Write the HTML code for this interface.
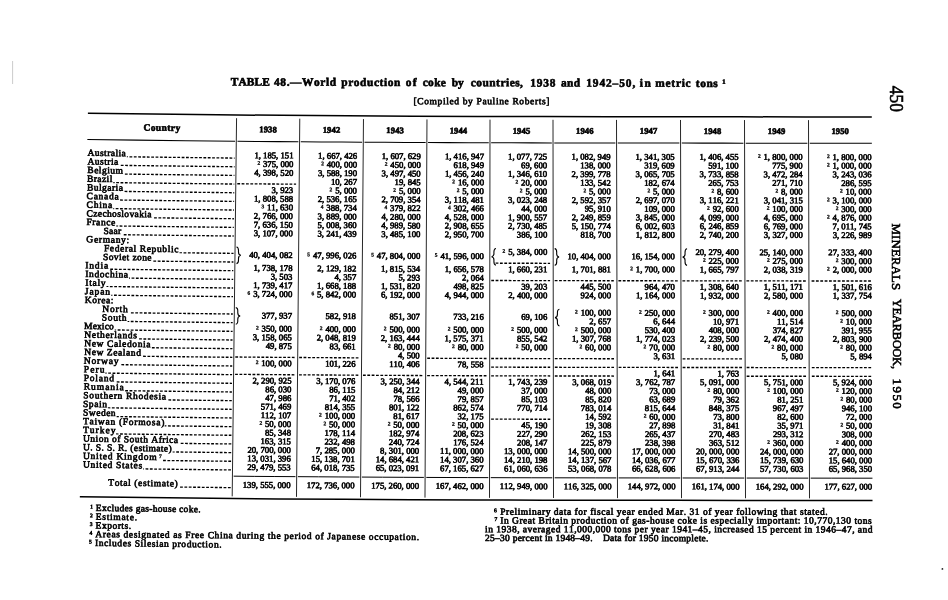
<!DOCTYPE html>
<html><head><meta charset="utf-8"><title>Table 48</title><style>
html,body{margin:0;padding:0;background:#fff;}
body{width:948px;height:600px;position:relative;overflow:hidden;filter:grayscale(1);font-family:"Liberation Serif",serif;color:#000;}
.t{position:absolute;left:0;top:0;transform-origin:0 0;white-space:nowrap;line-height:1;font-kerning:none;-webkit-text-stroke:0.6px #000;}
.s{font-size:5.4px;position:relative;top:-1.9px;margin-right:2.9px;letter-spacing:0;font-weight:bold;-webkit-text-stroke:0.3px #111;}
svg{position:absolute;left:0;top:0;}
svg *{stroke:#000;fill:none;}
</style></head>
<body>
<svg width="948" height="600" viewBox="0 0 948 600">
<polyline points="87.91,113.20 152.39,114.04 216.88,114.78 281.78,115.36 347.25,115.79 412.70,116.15 477.70,116.41 542.58,116.59 607.90,116.70 673.75,116.77 739.67,116.85 805.58,116.92 871.80,117.00" stroke-width="1.5"/>
<polyline points="79.83,496.70 145.89,497.55 211.95,498.32 278.13,498.94 344.14,499.37 410.45,499.74 476.90,500.01 542.92,500.19 608.84,500.30 674.76,500.37 740.68,500.45 806.59,500.53 872.51,500.60" stroke-width="1.5"/>
<polyline points="87.35,139.50 136.61,140.13 185.87,140.73 235.12,141.28" stroke-width="1.05"/>
<polyline points="237.49,141.31 257.79,141.50 278.09,141.64 298.39,141.77" stroke-width="1.05"/>
<polyline points="300.77,141.79 321.21,141.92 341.66,142.06 362.10,142.17" stroke-width="1.05"/>
<polyline points="364.49,142.19 384.88,142.30 405.28,142.41 425.67,142.53" stroke-width="1.05"/>
<polyline points="428.05,142.54 448.29,142.61 468.54,142.68 488.78,142.75" stroke-width="1.05"/>
<polyline points="491.15,142.75 511.38,142.82 531.62,142.87 551.85,142.90" stroke-width="1.05"/>
<polyline points="554.23,142.91 574.61,142.94 594.99,142.97 615.38,143.01" stroke-width="1.05"/>
<polyline points="617.77,143.01 638.30,143.03 658.84,143.06 679.37,143.08" stroke-width="1.05"/>
<polyline points="681.77,143.08 702.30,143.11 722.84,143.13 743.37,143.15" stroke-width="1.05"/>
<polyline points="745.77,143.16 766.30,143.18 786.84,143.20 807.37,143.23" stroke-width="1.05"/>
<polyline points="809.77,143.23 830.47,143.25 851.16,143.28 871.85,143.30" stroke-width="1.05"/>
<polyline points="233.63,476.17 254.24,476.38 274.85,476.52 295.46,476.65" stroke-width="1.0"/>
<polyline points="297.87,476.67 318.39,476.81 338.92,476.94 359.45,477.06" stroke-width="1.0"/>
<polyline points="361.86,477.07 382.54,477.19 403.21,477.30 423.89,477.42" stroke-width="1.0"/>
<polyline points="426.31,477.43 446.98,477.51 467.65,477.58 488.32,477.64" stroke-width="1.0"/>
<polyline points="490.72,477.65 511.24,477.72 531.76,477.77 552.28,477.80" stroke-width="1.0"/>
<polyline points="554.67,477.81 575.20,477.84 595.72,477.88 616.25,477.91" stroke-width="1.0"/>
<polyline points="618.65,477.91 639.18,477.93 659.72,477.96 680.25,477.98" stroke-width="1.0"/>
<polyline points="682.65,477.98 703.18,478.01 723.72,478.03 744.25,478.05" stroke-width="1.0"/>
<polyline points="746.65,478.06 767.18,478.08 787.72,478.10 808.25,478.13" stroke-width="1.0"/>
<polyline points="810.65,478.13 831.25,478.15 851.86,478.18 872.46,478.20" stroke-width="1.0"/>
<line x1="236.57" y1="118.20" x2="232.19" y2="496.35" stroke-width="0.85"/>
<line x1="299.77" y1="118.68" x2="296.49" y2="496.86" stroke-width="0.85"/>
<line x1="363.48" y1="119.08" x2="360.49" y2="497.26" stroke-width="0.85"/>
<line x1="426.98" y1="119.43" x2="424.99" y2="497.62" stroke-width="0.85"/>
<line x1="490.00" y1="119.65" x2="489.50" y2="497.85" stroke-width="0.85"/>
<line x1="553.00" y1="119.81" x2="553.50" y2="498.01" stroke-width="0.85"/>
<line x1="616.51" y1="119.91" x2="617.50" y2="498.11" stroke-width="0.85"/>
<line x1="680.51" y1="119.98" x2="681.50" y2="498.18" stroke-width="0.85"/>
<line x1="744.51" y1="120.05" x2="745.50" y2="498.26" stroke-width="0.85"/>
<line x1="808.51" y1="120.13" x2="809.50" y2="498.33" stroke-width="0.85"/>
<line x1="129.47" y1="156.84" x2="234.63" y2="158.08" stroke-width="1.35" stroke-dasharray="2.8 1.550"/>
<line x1="126.79" y1="156.81" x2="127.95" y2="156.82" stroke-width="1.1"/>
<line x1="120.78" y1="165.39" x2="234.53" y2="166.74" stroke-width="1.35" stroke-dasharray="2.8 1.550"/>
<line x1="124.88" y1="174.11" x2="234.43" y2="175.40" stroke-width="1.35" stroke-dasharray="2.8 1.550"/>
<line x1="116.17" y1="182.66" x2="234.33" y2="184.07" stroke-width="1.35" stroke-dasharray="2.8 1.550"/>
<line x1="113.30" y1="182.62" x2="114.65" y2="182.64" stroke-width="1.1"/>
<line x1="237.29" y1="183.75" x2="296.09" y2="184.20" stroke-width="1.35" stroke-dasharray="2.8 1.550"/>
<line x1="124.56" y1="191.43" x2="234.23" y2="192.73" stroke-width="1.35" stroke-dasharray="2.8 1.550"/>
<line x1="120.12" y1="200.04" x2="234.13" y2="201.39" stroke-width="1.35" stroke-dasharray="2.8 1.550"/>
<line x1="115.68" y1="208.65" x2="234.03" y2="210.06" stroke-width="1.35" stroke-dasharray="2.8 1.550"/>
<line x1="113.30" y1="208.61" x2="114.15" y2="208.63" stroke-width="1.1"/>
<line x1="154.06" y1="217.81" x2="233.93" y2="218.72" stroke-width="1.35" stroke-dasharray="2.8 1.550"/>
<line x1="119.63" y1="226.02" x2="233.82" y2="227.38" stroke-width="1.35" stroke-dasharray="2.8 1.550"/>
<line x1="116.20" y1="225.98" x2="118.10" y2="226.01" stroke-width="1.1"/>
<line x1="123.75" y1="234.74" x2="233.72" y2="236.04" stroke-width="1.35" stroke-dasharray="2.8 1.550"/>
<line x1="183.53" y1="252.81" x2="233.52" y2="253.37" stroke-width="1.35" stroke-dasharray="2.8 1.550"/>
<line x1="179.50" y1="252.77" x2="182.00" y2="252.79" stroke-width="1.1"/>
<line x1="153.34" y1="261.12" x2="233.42" y2="262.03" stroke-width="1.35" stroke-dasharray="2.8 1.550"/>
<line x1="495.60" y1="263.19" x2="550.07" y2="263.32" stroke-width="1.35" stroke-dasharray="2.8 1.550"/>
<line x1="110.22" y1="269.22" x2="233.32" y2="270.70" stroke-width="1.35" stroke-dasharray="2.8 1.550"/>
<line x1="131.55" y1="278.16" x2="233.22" y2="279.36" stroke-width="1.35" stroke-dasharray="2.8 1.550"/>
<line x1="129.00" y1="278.13" x2="130.02" y2="278.14" stroke-width="1.1"/>
<line x1="491.27" y1="280.50" x2="550.09" y2="280.65" stroke-width="1.35" stroke-dasharray="2.8 1.550"/>
<line x1="554.71" y1="280.65" x2="613.79" y2="280.75" stroke-width="1.35" stroke-dasharray="2.8 1.550"/>
<line x1="618.43" y1="280.76" x2="677.78" y2="280.82" stroke-width="1.35" stroke-dasharray="2.8 1.550"/>
<line x1="682.43" y1="280.83" x2="741.78" y2="280.90" stroke-width="1.35" stroke-dasharray="2.8 1.550"/>
<line x1="746.43" y1="280.90" x2="805.78" y2="280.97" stroke-width="1.35" stroke-dasharray="2.8 1.550"/>
<line x1="811.59" y1="280.98" x2="871.10" y2="281.04" stroke-width="1.35" stroke-dasharray="2.8 1.550"/>
<line x1="109.88" y1="286.55" x2="233.12" y2="288.02" stroke-width="1.35" stroke-dasharray="2.8 1.550"/>
<line x1="106.50" y1="286.50" x2="108.35" y2="286.53" stroke-width="1.1"/>
<line x1="114.02" y1="295.26" x2="233.01" y2="296.68" stroke-width="1.35" stroke-dasharray="2.8 1.550"/>
<line x1="111.10" y1="295.23" x2="112.48" y2="295.24" stroke-width="1.1"/>
<line x1="130.92" y1="312.81" x2="232.81" y2="314.01" stroke-width="1.35" stroke-dasharray="2.8 1.550"/>
<line x1="130.76" y1="321.47" x2="232.71" y2="322.67" stroke-width="1.35" stroke-dasharray="2.8 1.550"/>
<line x1="127.60" y1="321.43" x2="129.23" y2="321.45" stroke-width="1.1"/>
<line x1="117.67" y1="329.97" x2="232.61" y2="331.34" stroke-width="1.35" stroke-dasharray="2.8 1.550"/>
<line x1="114.70" y1="329.93" x2="116.13" y2="329.95" stroke-width="1.1"/>
<line x1="139.08" y1="338.91" x2="232.51" y2="340.00" stroke-width="1.35" stroke-dasharray="2.8 1.550"/>
<line x1="151.89" y1="347.74" x2="232.41" y2="348.66" stroke-width="1.35" stroke-dasharray="2.8 1.550"/>
<line x1="143.10" y1="356.29" x2="232.31" y2="357.32" stroke-width="1.35" stroke-dasharray="2.8 1.550"/>
<line x1="235.30" y1="357.01" x2="294.56" y2="357.47" stroke-width="1.35" stroke-dasharray="2.8 1.550"/>
<line x1="299.20" y1="357.50" x2="358.45" y2="357.87" stroke-width="1.35" stroke-dasharray="2.8 1.550"/>
<line x1="427.23" y1="358.26" x2="486.53" y2="358.46" stroke-width="1.35" stroke-dasharray="2.8 1.550"/>
<line x1="491.17" y1="358.48" x2="550.19" y2="358.62" stroke-width="1.35" stroke-dasharray="2.8 1.550"/>
<line x1="554.81" y1="358.63" x2="614.00" y2="358.73" stroke-width="1.35" stroke-dasharray="2.8 1.550"/>
<line x1="682.64" y1="358.81" x2="741.99" y2="358.87" stroke-width="1.35" stroke-dasharray="2.8 1.550"/>
<line x1="121.33" y1="364.67" x2="232.21" y2="365.99" stroke-width="1.35" stroke-dasharray="2.8 1.550"/>
<line x1="491.16" y1="367.14" x2="550.20" y2="367.29" stroke-width="1.35" stroke-dasharray="2.8 1.550"/>
<line x1="554.83" y1="367.29" x2="614.02" y2="367.39" stroke-width="1.35" stroke-dasharray="2.8 1.550"/>
<line x1="618.66" y1="367.40" x2="678.01" y2="367.46" stroke-width="1.35" stroke-dasharray="2.8 1.550"/>
<line x1="682.66" y1="367.47" x2="742.01" y2="367.54" stroke-width="1.35" stroke-dasharray="2.8 1.550"/>
<line x1="746.66" y1="367.54" x2="806.01" y2="367.61" stroke-width="1.35" stroke-dasharray="2.8 1.550"/>
<line x1="811.81" y1="367.62" x2="871.26" y2="367.69" stroke-width="1.35" stroke-dasharray="2.8 1.550"/>
<line x1="108.20" y1="373.16" x2="232.10" y2="374.65" stroke-width="1.35" stroke-dasharray="2.8 1.550"/>
<line x1="105.40" y1="373.13" x2="106.65" y2="373.14" stroke-width="1.1"/>
<line x1="235.10" y1="374.33" x2="294.40" y2="374.80" stroke-width="1.35" stroke-dasharray="2.8 1.550"/>
<line x1="299.05" y1="374.83" x2="358.31" y2="375.20" stroke-width="1.35" stroke-dasharray="2.8 1.550"/>
<line x1="362.96" y1="375.23" x2="422.48" y2="375.56" stroke-width="1.35" stroke-dasharray="2.8 1.550"/>
<line x1="427.14" y1="375.58" x2="486.51" y2="375.79" stroke-width="1.35" stroke-dasharray="2.8 1.550"/>
<line x1="491.15" y1="375.80" x2="550.21" y2="375.95" stroke-width="1.35" stroke-dasharray="2.8 1.550"/>
<line x1="554.84" y1="375.96" x2="614.04" y2="376.05" stroke-width="1.35" stroke-dasharray="2.8 1.550"/>
<line x1="746.68" y1="376.21" x2="806.03" y2="376.27" stroke-width="1.35" stroke-dasharray="2.8 1.550"/>
<line x1="811.84" y1="376.28" x2="871.28" y2="376.35" stroke-width="1.35" stroke-dasharray="2.8 1.550"/>
<line x1="116.68" y1="381.94" x2="232.00" y2="383.31" stroke-width="1.35" stroke-dasharray="2.8 1.550"/>
<line x1="125.18" y1="390.71" x2="231.90" y2="391.98" stroke-width="1.35" stroke-dasharray="2.8 1.550"/>
<line x1="168.35" y1="399.93" x2="231.80" y2="400.64" stroke-width="1.35" stroke-dasharray="2.8 1.550"/>
<line x1="111.86" y1="407.87" x2="231.70" y2="409.30" stroke-width="1.35" stroke-dasharray="2.8 1.550"/>
<line x1="107.91" y1="407.82" x2="110.31" y2="407.85" stroke-width="1.1"/>
<line x1="120.37" y1="416.64" x2="231.60" y2="417.96" stroke-width="1.35" stroke-dasharray="2.8 1.550"/>
<line x1="116.61" y1="416.59" x2="118.82" y2="416.62" stroke-width="1.1"/>
<line x1="491.10" y1="419.12" x2="550.26" y2="419.27" stroke-width="1.35" stroke-dasharray="2.8 1.550"/>
<line x1="167.94" y1="425.92" x2="231.50" y2="426.63" stroke-width="1.35" stroke-dasharray="2.8 1.550"/>
<line x1="164.70" y1="425.88" x2="166.40" y2="425.90" stroke-width="1.1"/>
<line x1="120.04" y1="433.97" x2="231.40" y2="435.29" stroke-width="1.35" stroke-dasharray="2.8 1.550"/>
<line x1="116.11" y1="433.92" x2="118.50" y2="433.95" stroke-width="1.1"/>
<line x1="180.71" y1="443.39" x2="231.30" y2="443.95" stroke-width="1.35" stroke-dasharray="2.8 1.550"/>
<line x1="176.23" y1="452.00" x2="231.19" y2="452.62" stroke-width="1.35" stroke-dasharray="2.8 1.550"/>
<line x1="172.61" y1="451.96" x2="174.68" y2="451.98" stroke-width="1.1"/>
<line x1="163.05" y1="460.51" x2="231.09" y2="461.28" stroke-width="1.35" stroke-dasharray="2.8 1.550"/>
<line x1="145.51" y1="468.95" x2="230.99" y2="469.94" stroke-width="1.35" stroke-dasharray="2.8 1.550"/>
<line x1="143.11" y1="468.92" x2="143.96" y2="468.93" stroke-width="1.1"/>
<line x1="180.06" y1="487.07" x2="230.79" y2="487.64" stroke-width="1.35" stroke-dasharray="2.8 1.550"/>
<path d="M236.47,247.03 c2.6,0.3 2.0,3.2 2.0,5.0 c0,1.8 0.6,3.0 2.4,3.3 c-1.8,0.3 -2.4,1.5 -2.4,3.3 c0,1.8 0.6,4.7 -2.0,5.0" fill="none" stroke-width="1.1"/>
<path d="M235.77,307.67 c2.6,0.3 2.0,3.2 2.0,5.0 c0,1.8 0.6,3.0 2.4,3.3 c-1.8,0.3 -2.4,1.5 -2.4,3.3 c0,1.8 0.6,4.7 -2.0,5.0" fill="none" stroke-width="1.1"/>
<path d="M495.95,248.51 c-2.6,0.3 -2.0,3.2 -2.0,5.0 c0,1.8 -0.6,3.0 -2.4,3.3 c1.8,0.3 2.4,1.5 2.4,3.3 c0,1.8 -0.6,4.7 2.0,5.0" fill="none" stroke-width="1.1"/>
<path d="M554.68,248.64 c2.6,0.3 2.0,3.2 2.0,5.0 c0,1.8 0.6,3.0 2.4,3.3 c-1.8,0.3 -2.4,1.5 -2.4,3.3 c0,1.8 0.6,4.7 -2.0,5.0" fill="none" stroke-width="1.1"/>
<path d="M687.07,248.82 c-2.6,0.3 -2.0,3.2 -2.0,5.0 c0,1.8 -0.6,3.0 -2.4,3.3 c1.8,0.3 2.4,1.5 2.4,3.3 c0,1.8 -0.6,4.7 2.0,5.0" fill="none" stroke-width="1.1"/>
<path d="M559.44,309.30 c-2.6,0.3 -2.0,3.2 -2.0,5.0 c0,1.8 -0.6,3.0 -2.4,3.3 c1.8,0.3 2.4,1.5 2.4,3.3 c0,1.8 -0.6,4.7 2.0,5.0" fill="none" stroke-width="1.1"/>
<circle cx="942.4" cy="568.9" r="0.9" style="fill:#222;stroke:none"/>
<line x1="12.6" y1="61" x2="12.6" y2="84" stroke-width="0.5" style="stroke:#999"/>
</svg>
<div class="t " style="font-size:9.5px;letter-spacing:0.4px;transform:translate(161.97px,131.76px) rotate(0.701deg) translate(-50%,-7.96px);font-weight:bold;">Country</div>
<div class="t " style="font-size:8.6px;letter-spacing:0.1px;transform:translate(268.03px,132.57px) rotate(0.382deg) translate(-50%,-7.20px);font-weight:bold;">1938</div>
<div class="t " style="font-size:8.6px;letter-spacing:0.1px;transform:translate(331.51px,132.99px) rotate(0.368deg) translate(-50%,-7.20px);font-weight:bold;">1942</div>
<div class="t " style="font-size:8.6px;letter-spacing:0.1px;transform:translate(395.14px,133.36px) rotate(0.318deg) translate(-50%,-7.20px);font-weight:bold;">1943</div>
<div class="t " style="font-size:8.6px;letter-spacing:0.1px;transform:translate(458.44px,133.64px) rotate(0.191deg) translate(-50%,-7.20px);font-weight:bold;">1944</div>
<div class="t " style="font-size:8.6px;letter-spacing:0.1px;transform:translate(521.50px,133.85px) rotate(0.138deg) translate(-50%,-7.20px);font-weight:bold;">1945</div>
<div class="t " style="font-size:8.6px;letter-spacing:0.1px;transform:translate(584.78px,133.96px) rotate(0.095deg) translate(-50%,-7.20px);font-weight:bold;">1946</div>
<div class="t " style="font-size:8.6px;letter-spacing:0.1px;transform:translate(648.54px,134.04px) rotate(0.066deg) translate(-50%,-7.20px);font-weight:bold;">1947</div>
<div class="t " style="font-size:8.6px;letter-spacing:0.1px;transform:translate(712.54px,134.12px) rotate(0.066deg) translate(-50%,-7.20px);font-weight:bold;">1948</div>
<div class="t " style="font-size:8.6px;letter-spacing:0.1px;transform:translate(776.54px,134.19px) rotate(0.066deg) translate(-50%,-7.20px);font-weight:bold;">1949</div>
<div class="t " style="font-size:8.6px;letter-spacing:0.1px;transform:translate(840.19px,134.26px) rotate(0.066deg) translate(-50%,-7.20px);font-weight:bold;">1950</div>
<div class="t " style="font-size:9.5px;letter-spacing:0.4345703125px;transform:translate(87.50px,156.70px) rotate(0.807deg) translate(0,-7.96px);">Australia</div>
<div class="t " style="font-size:8.7px;letter-spacing:0px;transform:translate(293.49px,158.69px) rotate(0.382deg) translate(-100%,-7.29px);">1, 185, 151</div>
<div class="t " style="font-size:8.7px;letter-spacing:0px;transform:translate(357.19px,159.10px) rotate(0.318deg) translate(-100%,-7.29px);">1, 667, 426</div>
<div class="t " style="font-size:8.7px;letter-spacing:0px;transform:translate(420.81px,159.45px) rotate(0.294deg) translate(-100%,-7.29px);">1, 607, 629</div>
<div class="t " style="font-size:8.7px;letter-spacing:0px;transform:translate(484.02px,159.68px) rotate(0.191deg) translate(-100%,-7.29px);">1, 416, 947</div>
<div class="t " style="font-size:8.7px;letter-spacing:0px;transform:translate(547.14px,159.85px) rotate(0.095deg) translate(-100%,-7.29px);">1, 077, 725</div>
<div class="t " style="font-size:8.7px;letter-spacing:0px;transform:translate(610.65px,159.95px) rotate(0.080deg) translate(-100%,-7.29px);">1, 082, 949</div>
<div class="t " style="font-size:8.7px;letter-spacing:0px;transform:translate(674.61px,160.02px) rotate(0.066deg) translate(-100%,-7.29px);">1, 341, 305</div>
<div class="t " style="font-size:8.7px;letter-spacing:0px;transform:translate(738.61px,160.10px) rotate(0.066deg) translate(-100%,-7.29px);">1, 406, 455</div>
<div class="t " style="font-size:8.7px;letter-spacing:0px;transform:translate(802.61px,160.17px) rotate(0.066deg) translate(-100%,-7.29px);"><span class="s">2</span>1, 800, 000</div>
<div class="t " style="font-size:8.7px;letter-spacing:0px;transform:translate(871.58px,160.25px) rotate(0.052deg) translate(-100%,-7.29px);"><span class="s">2</span>1, 800, 000</div>
<div class="t " style="font-size:9.5px;letter-spacing:0.45546875000000026px;transform:translate(87.50px,165.36px) rotate(0.807deg) translate(0,-7.96px);">Austria</div>
<div class="t " style="font-size:8.7px;letter-spacing:0px;transform:translate(293.41px,167.35px) rotate(0.382deg) translate(-100%,-7.29px);"><span class="s">2</span>375, 000</div>
<div class="t " style="font-size:8.7px;letter-spacing:0px;transform:translate(357.12px,167.76px) rotate(0.318deg) translate(-100%,-7.29px);"><span class="s">2</span>400, 000</div>
<div class="t " style="font-size:8.7px;letter-spacing:0px;transform:translate(420.76px,168.11px) rotate(0.294deg) translate(-100%,-7.29px);"><span class="s">2</span>450, 000</div>
<div class="t " style="font-size:8.7px;letter-spacing:0px;transform:translate(484.01px,168.34px) rotate(0.191deg) translate(-100%,-7.29px);">618, 949</div>
<div class="t " style="font-size:8.7px;letter-spacing:0px;transform:translate(547.15px,168.51px) rotate(0.095deg) translate(-100%,-7.29px);">69, 600</div>
<div class="t " style="font-size:8.7px;letter-spacing:0px;transform:translate(610.68px,168.61px) rotate(0.080deg) translate(-100%,-7.29px);">138, 000</div>
<div class="t " style="font-size:8.7px;letter-spacing:0px;transform:translate(674.64px,168.69px) rotate(0.066deg) translate(-100%,-7.29px);">319, 609</div>
<div class="t " style="font-size:8.7px;letter-spacing:0px;transform:translate(738.64px,168.76px) rotate(0.066deg) translate(-100%,-7.29px);">591, 100</div>
<div class="t " style="font-size:8.7px;letter-spacing:0px;transform:translate(802.64px,168.83px) rotate(0.066deg) translate(-100%,-7.29px);">775, 900</div>
<div class="t " style="font-size:8.7px;letter-spacing:0px;transform:translate(871.59px,168.91px) rotate(0.052deg) translate(-100%,-7.29px);"><span class="s">2</span>1, 000, 000</div>
<div class="t " style="font-size:9.5px;letter-spacing:0.4799479166666683px;transform:translate(87.30px,174.03px) rotate(0.808deg) translate(0,-7.96px);">Belgium</div>
<div class="t " style="font-size:8.7px;letter-spacing:0px;transform:translate(293.34px,176.02px) rotate(0.382deg) translate(-100%,-7.29px);">4, 398, 520</div>
<div class="t " style="font-size:8.7px;letter-spacing:0px;transform:translate(357.05px,176.42px) rotate(0.318deg) translate(-100%,-7.29px);">3, 588, 190</div>
<div class="t " style="font-size:8.7px;letter-spacing:0px;transform:translate(420.71px,176.78px) rotate(0.294deg) translate(-100%,-7.29px);">3, 497, 450</div>
<div class="t " style="font-size:8.7px;letter-spacing:0px;transform:translate(483.99px,177.01px) rotate(0.191deg) translate(-100%,-7.29px);">1, 456, 240</div>
<div class="t " style="font-size:8.7px;letter-spacing:0px;transform:translate(547.16px,177.17px) rotate(0.095deg) translate(-100%,-7.29px);">1, 346, 610</div>
<div class="t " style="font-size:8.7px;letter-spacing:0px;transform:translate(610.70px,177.28px) rotate(0.080deg) translate(-100%,-7.29px);">2, 399, 778</div>
<div class="t " style="font-size:8.7px;letter-spacing:0px;transform:translate(674.66px,177.35px) rotate(0.066deg) translate(-100%,-7.29px);">3, 065, 705</div>
<div class="t " style="font-size:8.7px;letter-spacing:0px;transform:translate(738.66px,177.43px) rotate(0.066deg) translate(-100%,-7.29px);">3, 733, 858</div>
<div class="t " style="font-size:8.7px;letter-spacing:0px;transform:translate(802.66px,177.50px) rotate(0.066deg) translate(-100%,-7.29px);">3, 472, 284</div>
<div class="t " style="font-size:8.7px;letter-spacing:0px;transform:translate(871.61px,177.58px) rotate(0.052deg) translate(-100%,-7.29px);">3, 243, 036</div>
<div class="t " style="font-size:9.5px;letter-spacing:0.4174999999999997px;transform:translate(87.00px,182.69px) rotate(0.811deg) translate(0,-7.96px);">Brazil</div>
<div class="t " style="font-size:8.7px;letter-spacing:0px;transform:translate(356.98px,185.09px) rotate(0.318deg) translate(-100%,-7.29px);">10, 267</div>
<div class="t " style="font-size:8.7px;letter-spacing:0px;transform:translate(420.67px,185.44px) rotate(0.294deg) translate(-100%,-7.29px);">19, 845</div>
<div class="t " style="font-size:8.7px;letter-spacing:0px;transform:translate(483.98px,185.67px) rotate(0.191deg) translate(-100%,-7.29px);"><span class="s">2</span>16, 000</div>
<div class="t " style="font-size:8.7px;letter-spacing:0px;transform:translate(547.17px,185.84px) rotate(0.095deg) translate(-100%,-7.29px);"><span class="s">2</span>20, 000</div>
<div class="t " style="font-size:8.7px;letter-spacing:0px;transform:translate(610.72px,185.94px) rotate(0.080deg) translate(-100%,-7.29px);">133, 542</div>
<div class="t " style="font-size:8.7px;letter-spacing:0px;transform:translate(674.68px,186.02px) rotate(0.066deg) translate(-100%,-7.29px);">182, 674</div>
<div class="t " style="font-size:8.7px;letter-spacing:0px;transform:translate(738.68px,186.09px) rotate(0.066deg) translate(-100%,-7.29px);">265, 753</div>
<div class="t " style="font-size:8.7px;letter-spacing:0px;transform:translate(802.68px,186.16px) rotate(0.066deg) translate(-100%,-7.29px);">271, 710</div>
<div class="t " style="font-size:8.7px;letter-spacing:0px;transform:translate(871.63px,186.24px) rotate(0.052deg) translate(-100%,-7.29px);">286, 595</div>
<div class="t " style="font-size:9.5px;letter-spacing:0.45535714285714385px;transform:translate(87.00px,191.35px) rotate(0.811deg) translate(0,-7.96px);">Bulgaria</div>
<div class="t " style="font-size:8.7px;letter-spacing:0px;transform:translate(293.18px,193.34px) rotate(0.382deg) translate(-100%,-7.29px);">3, 923</div>
<div class="t " style="font-size:8.7px;letter-spacing:0px;transform:translate(356.91px,193.75px) rotate(0.318deg) translate(-100%,-7.29px);"><span class="s">2</span>5, 000</div>
<div class="t " style="font-size:8.7px;letter-spacing:0px;transform:translate(420.62px,194.10px) rotate(0.294deg) translate(-100%,-7.29px);"><span class="s">2</span>5, 000</div>
<div class="t " style="font-size:8.7px;letter-spacing:0px;transform:translate(483.96px,194.34px) rotate(0.191deg) translate(-100%,-7.29px);"><span class="s">2</span>5, 000</div>
<div class="t " style="font-size:8.7px;letter-spacing:0px;transform:translate(547.18px,194.50px) rotate(0.095deg) translate(-100%,-7.29px);"><span class="s">2</span>5, 000</div>
<div class="t " style="font-size:8.7px;letter-spacing:0px;transform:translate(610.74px,194.61px) rotate(0.080deg) translate(-100%,-7.29px);"><span class="s">2</span>5, 000</div>
<div class="t " style="font-size:8.7px;letter-spacing:0px;transform:translate(674.70px,194.68px) rotate(0.066deg) translate(-100%,-7.29px);"><span class="s">2</span>5, 000</div>
<div class="t " style="font-size:8.7px;letter-spacing:0px;transform:translate(738.70px,194.75px) rotate(0.066deg) translate(-100%,-7.29px);"><span class="s">2</span>8, 600</div>
<div class="t " style="font-size:8.7px;letter-spacing:0px;transform:translate(802.70px,194.83px) rotate(0.066deg) translate(-100%,-7.29px);"><span class="s">2</span>8, 000</div>
<div class="t " style="font-size:8.7px;letter-spacing:0px;transform:translate(871.64px,194.91px) rotate(0.052deg) translate(-100%,-7.29px);"><span class="s">2</span>10, 000</div>
<div class="t " style="font-size:9.5px;letter-spacing:0.7224999999999987px;transform:translate(86.60px,200.01px) rotate(0.815deg) translate(0,-7.96px);">Canada</div>
<div class="t " style="font-size:8.7px;letter-spacing:0px;transform:translate(293.10px,202.01px) rotate(0.382deg) translate(-100%,-7.29px);">1, 808, 588</div>
<div class="t " style="font-size:8.7px;letter-spacing:0px;transform:translate(356.84px,202.41px) rotate(0.318deg) translate(-100%,-7.29px);">2, 536, 165</div>
<div class="t " style="font-size:8.7px;letter-spacing:0px;transform:translate(420.57px,202.77px) rotate(0.295deg) translate(-100%,-7.29px);">2, 709, 354</div>
<div class="t " style="font-size:8.7px;letter-spacing:0px;transform:translate(483.95px,203.00px) rotate(0.191deg) translate(-100%,-7.29px);">3, 118, 481</div>
<div class="t " style="font-size:8.7px;letter-spacing:0px;transform:translate(547.19px,203.17px) rotate(0.095deg) translate(-100%,-7.29px);">3, 023, 248</div>
<div class="t " style="font-size:8.7px;letter-spacing:0px;transform:translate(610.76px,203.27px) rotate(0.080deg) translate(-100%,-7.29px);">2, 592, 357</div>
<div class="t " style="font-size:8.7px;letter-spacing:0px;transform:translate(674.73px,203.34px) rotate(0.066deg) translate(-100%,-7.29px);">2, 697, 070</div>
<div class="t " style="font-size:8.7px;letter-spacing:0px;transform:translate(738.73px,203.42px) rotate(0.066deg) translate(-100%,-7.29px);">3, 116, 221</div>
<div class="t " style="font-size:8.7px;letter-spacing:0px;transform:translate(802.73px,203.49px) rotate(0.066deg) translate(-100%,-7.29px);">3, 041, 315</div>
<div class="t " style="font-size:8.7px;letter-spacing:0px;transform:translate(871.66px,203.57px) rotate(0.052deg) translate(-100%,-7.29px);"><span class="s">2</span>3, 100, 000</div>
<div class="t " style="font-size:9.5px;letter-spacing:0.7519531249999973px;transform:translate(86.60px,208.67px) rotate(0.815deg) translate(0,-7.96px);">China</div>
<div class="t " style="font-size:8.7px;letter-spacing:0px;transform:translate(293.02px,210.67px) rotate(0.382deg) translate(-100%,-7.29px);"><span class="s">3</span>11, 630</div>
<div class="t " style="font-size:8.7px;letter-spacing:0px;transform:translate(356.77px,211.08px) rotate(0.318deg) translate(-100%,-7.29px);"><span class="s">4</span>388, 734</div>
<div class="t " style="font-size:8.7px;letter-spacing:0px;transform:translate(420.52px,211.43px) rotate(0.295deg) translate(-100%,-7.29px);"><span class="s">4</span>379, 822</div>
<div class="t " style="font-size:8.7px;letter-spacing:0px;transform:translate(483.93px,211.66px) rotate(0.191deg) translate(-100%,-7.29px);"><span class="s">4</span>302, 466</div>
<div class="t " style="font-size:8.7px;letter-spacing:0px;transform:translate(547.20px,211.83px) rotate(0.095deg) translate(-100%,-7.29px);">44, 000</div>
<div class="t " style="font-size:8.7px;letter-spacing:0px;transform:translate(610.78px,211.93px) rotate(0.080deg) translate(-100%,-7.29px);">95, 910</div>
<div class="t " style="font-size:8.7px;letter-spacing:0px;transform:translate(674.75px,212.01px) rotate(0.066deg) translate(-100%,-7.29px);">109, 000</div>
<div class="t " style="font-size:8.7px;letter-spacing:0px;transform:translate(738.75px,212.08px) rotate(0.066deg) translate(-100%,-7.29px);"><span class="s">2</span>92, 600</div>
<div class="t " style="font-size:8.7px;letter-spacing:0px;transform:translate(802.75px,212.15px) rotate(0.066deg) translate(-100%,-7.29px);"><span class="s">2</span>100, 000</div>
<div class="t " style="font-size:8.7px;letter-spacing:0px;transform:translate(871.67px,212.23px) rotate(0.052deg) translate(-100%,-7.29px);"><span class="s">2</span>300, 000</div>
<div class="t " style="font-size:9.5px;letter-spacing:0.3733173076923087px;transform:translate(86.50px,217.34px) rotate(0.815deg) translate(0,-7.96px);">Czechoslovakia</div>
<div class="t " style="font-size:8.7px;letter-spacing:0px;transform:translate(292.95px,219.33px) rotate(0.382deg) translate(-100%,-7.29px);">2, 766, 000</div>
<div class="t " style="font-size:8.7px;letter-spacing:0px;transform:translate(356.70px,219.74px) rotate(0.318deg) translate(-100%,-7.29px);">3, 889, 000</div>
<div class="t " style="font-size:8.7px;letter-spacing:0px;transform:translate(420.48px,220.10px) rotate(0.295deg) translate(-100%,-7.29px);">4, 280, 000</div>
<div class="t " style="font-size:8.7px;letter-spacing:0px;transform:translate(483.92px,220.33px) rotate(0.191deg) translate(-100%,-7.29px);">4, 528, 000</div>
<div class="t " style="font-size:8.7px;letter-spacing:0px;transform:translate(547.20px,220.49px) rotate(0.095deg) translate(-100%,-7.29px);">1, 900, 557</div>
<div class="t " style="font-size:8.7px;letter-spacing:0px;transform:translate(610.81px,220.60px) rotate(0.080deg) translate(-100%,-7.29px);">2, 249, 859</div>
<div class="t " style="font-size:8.7px;letter-spacing:0px;transform:translate(674.77px,220.67px) rotate(0.066deg) translate(-100%,-7.29px);">3, 845, 000</div>
<div class="t " style="font-size:8.7px;letter-spacing:0px;transform:translate(738.77px,220.75px) rotate(0.066deg) translate(-100%,-7.29px);">4, 099, 000</div>
<div class="t " style="font-size:8.7px;letter-spacing:0px;transform:translate(802.77px,220.82px) rotate(0.066deg) translate(-100%,-7.29px);">4, 695, 000</div>
<div class="t " style="font-size:8.7px;letter-spacing:0px;transform:translate(871.69px,220.90px) rotate(0.052deg) translate(-100%,-7.29px);"><span class="s">2</span>4, 876, 000</div>
<div class="t " style="font-size:9.5px;letter-spacing:0.5703125000000007px;transform:translate(86.50px,226.00px) rotate(0.815deg) translate(0,-7.96px);">France</div>
<div class="t " style="font-size:8.7px;letter-spacing:0px;transform:translate(292.87px,228.00px) rotate(0.382deg) translate(-100%,-7.29px);">7, 636, 150</div>
<div class="t " style="font-size:8.7px;letter-spacing:0px;transform:translate(356.63px,228.40px) rotate(0.318deg) translate(-100%,-7.29px);">5, 008, 360</div>
<div class="t " style="font-size:8.7px;letter-spacing:0px;transform:translate(420.43px,228.76px) rotate(0.295deg) translate(-100%,-7.29px);">4, 989, 580</div>
<div class="t " style="font-size:8.7px;letter-spacing:0px;transform:translate(483.90px,228.99px) rotate(0.191deg) translate(-100%,-7.29px);">2, 908, 655</div>
<div class="t " style="font-size:8.7px;letter-spacing:0px;transform:translate(547.21px,229.16px) rotate(0.095deg) translate(-100%,-7.29px);">2, 730, 485</div>
<div class="t " style="font-size:8.7px;letter-spacing:0px;transform:translate(610.83px,229.26px) rotate(0.080deg) translate(-100%,-7.29px);">5, 150, 774</div>
<div class="t " style="font-size:8.7px;letter-spacing:0px;transform:translate(674.80px,229.34px) rotate(0.066deg) translate(-100%,-7.29px);">6, 002, 603</div>
<div class="t " style="font-size:8.7px;letter-spacing:0px;transform:translate(738.80px,229.41px) rotate(0.066deg) translate(-100%,-7.29px);">6, 246, 859</div>
<div class="t " style="font-size:8.7px;letter-spacing:0px;transform:translate(802.80px,229.48px) rotate(0.066deg) translate(-100%,-7.29px);">6, 769, 000</div>
<div class="t " style="font-size:8.7px;letter-spacing:0px;transform:translate(871.71px,229.56px) rotate(0.052deg) translate(-100%,-7.29px);">7, 011, 745</div>
<div class="t " style="font-size:9.5px;letter-spacing:0.3062499999999986px;transform:translate(103.40px,234.88px) rotate(0.741deg) translate(0,-7.96px);">Saar</div>
<div class="t " style="font-size:8.7px;letter-spacing:0px;transform:translate(292.79px,236.66px) rotate(0.382deg) translate(-100%,-7.29px);">3, 107, 000</div>
<div class="t " style="font-size:8.7px;letter-spacing:0px;transform:translate(356.56px,237.07px) rotate(0.318deg) translate(-100%,-7.29px);">3, 241, 439</div>
<div class="t " style="font-size:8.7px;letter-spacing:0px;transform:translate(420.38px,237.42px) rotate(0.295deg) translate(-100%,-7.29px);">3, 485, 100</div>
<div class="t " style="font-size:8.7px;letter-spacing:0px;transform:translate(483.89px,237.66px) rotate(0.191deg) translate(-100%,-7.29px);">2, 950, 700</div>
<div class="t " style="font-size:8.7px;letter-spacing:0px;transform:translate(547.22px,237.82px) rotate(0.095deg) translate(-100%,-7.29px);">386, 100</div>
<div class="t " style="font-size:8.7px;letter-spacing:0px;transform:translate(610.85px,237.93px) rotate(0.080deg) translate(-100%,-7.29px);">818, 700</div>
<div class="t " style="font-size:8.7px;letter-spacing:0px;transform:translate(674.82px,238.00px) rotate(0.066deg) translate(-100%,-7.29px);">1, 812, 800</div>
<div class="t " style="font-size:8.7px;letter-spacing:0px;transform:translate(738.82px,238.07px) rotate(0.066deg) translate(-100%,-7.29px);">2, 740, 200</div>
<div class="t " style="font-size:8.7px;letter-spacing:0px;transform:translate(802.82px,238.15px) rotate(0.066deg) translate(-100%,-7.29px);">3, 327, 000</div>
<div class="t " style="font-size:8.7px;letter-spacing:0px;transform:translate(871.72px,238.23px) rotate(0.052deg) translate(-100%,-7.29px);">3, 226, 989</div>
<div class="t " style="font-size:9.5px;letter-spacing:0.7017857142857155px;transform:translate(86.30px,243.33px) rotate(0.817deg) translate(0,-7.96px);">Germany:</div>
<div class="t " style="font-size:9.5px;letter-spacing:0.6292708333333337px;transform:translate(103.90px,252.22px) rotate(0.741deg) translate(0,-7.96px);">Federal Republic</div>
<div class="t " style="font-size:8.7px;letter-spacing:0px;transform:translate(547.24px,255.15px) rotate(0.095deg) translate(-100%,-7.29px);"><span class="s">2</span>5, 384, 000</div>
<div class="t " style="font-size:8.7px;letter-spacing:0px;transform:translate(738.86px,255.40px) rotate(0.066deg) translate(-100%,-7.29px);">20, 279, 400</div>
<div class="t " style="font-size:8.7px;letter-spacing:0px;transform:translate(802.86px,255.47px) rotate(0.066deg) translate(-100%,-7.29px);">25, 140, 000</div>
<div class="t " style="font-size:8.7px;letter-spacing:0px;transform:translate(871.75px,255.55px) rotate(0.052deg) translate(-100%,-7.29px);">27, 333, 400</div>
<div class="t " style="font-size:9.5px;letter-spacing:0.39125000000000154px;transform:translate(103.00px,260.87px) rotate(0.741deg) translate(0,-7.96px);">Soviet zone</div>
<div class="t " style="font-size:8.7px;letter-spacing:0px;transform:translate(738.89px,264.07px) rotate(0.066deg) translate(-100%,-7.29px);"><span class="s">2</span>225, 000</div>
<div class="t " style="font-size:8.7px;letter-spacing:0px;transform:translate(802.89px,264.14px) rotate(0.066deg) translate(-100%,-7.29px);"><span class="s">2</span>275, 000</div>
<div class="t " style="font-size:8.7px;letter-spacing:0px;transform:translate(871.77px,264.22px) rotate(0.052deg) translate(-100%,-7.29px);"><span class="s">2</span>300, 000</div>
<div class="t " style="font-size:9.5px;letter-spacing:0.819921875000003px;transform:translate(85.30px,269.30px) rotate(0.826deg) translate(0,-7.96px);">India</div>
<div class="t " style="font-size:8.7px;letter-spacing:0px;transform:translate(292.48px,271.32px) rotate(0.382deg) translate(-100%,-7.29px);">1, 738, 178</div>
<div class="t " style="font-size:8.7px;letter-spacing:0px;transform:translate(356.29px,271.72px) rotate(0.318deg) translate(-100%,-7.29px);">2, 129, 182</div>
<div class="t " style="font-size:8.7px;letter-spacing:0px;transform:translate(420.19px,272.08px) rotate(0.296deg) translate(-100%,-7.29px);">1, 815, 534</div>
<div class="t " style="font-size:8.7px;letter-spacing:0px;transform:translate(483.83px,272.31px) rotate(0.191deg) translate(-100%,-7.29px);">1, 656, 578</div>
<div class="t " style="font-size:8.7px;letter-spacing:0px;transform:translate(547.26px,272.48px) rotate(0.095deg) translate(-100%,-7.29px);">1, 660, 231</div>
<div class="t " style="font-size:8.7px;letter-spacing:0px;transform:translate(610.94px,272.58px) rotate(0.080deg) translate(-100%,-7.29px);">1, 701, 881</div>
<div class="t " style="font-size:8.7px;letter-spacing:0px;transform:translate(674.91px,272.66px) rotate(0.066deg) translate(-100%,-7.29px);"><span class="s">2</span>1, 700, 000</div>
<div class="t " style="font-size:8.7px;letter-spacing:0px;transform:translate(738.91px,272.73px) rotate(0.066deg) translate(-100%,-7.29px);">1, 665, 797</div>
<div class="t " style="font-size:8.7px;letter-spacing:0px;transform:translate(802.91px,272.80px) rotate(0.066deg) translate(-100%,-7.29px);">2, 038, 319</div>
<div class="t " style="font-size:8.7px;letter-spacing:0px;transform:translate(871.79px,272.88px) rotate(0.052deg) translate(-100%,-7.29px);"><span class="s">2</span>2, 000, 000</div>
<div class="t " style="font-size:9.5px;letter-spacing:0.5890625000000025px;transform:translate(85.30px,277.97px) rotate(0.826deg) translate(0,-7.96px);">Indochina</div>
<div class="t " style="font-size:8.7px;letter-spacing:0px;transform:translate(292.40px,279.98px) rotate(0.382deg) translate(-100%,-7.29px);">3, 503</div>
<div class="t " style="font-size:8.7px;letter-spacing:0px;transform:translate(356.22px,280.39px) rotate(0.318deg) translate(-100%,-7.29px);">4, 357</div>
<div class="t " style="font-size:8.7px;letter-spacing:0px;transform:translate(420.14px,280.74px) rotate(0.296deg) translate(-100%,-7.29px);">5, 293</div>
<div class="t " style="font-size:8.7px;letter-spacing:0px;transform:translate(483.82px,280.98px) rotate(0.191deg) translate(-100%,-7.29px);">2, 064</div>
<div class="t " style="font-size:9.5px;letter-spacing:0.6976562500000005px;transform:translate(85.30px,286.63px) rotate(0.826deg) translate(0,-7.96px);">Italy</div>
<div class="t " style="font-size:8.7px;letter-spacing:0px;transform:translate(292.33px,288.64px) rotate(0.382deg) translate(-100%,-7.29px);">1, 739, 417</div>
<div class="t " style="font-size:8.7px;letter-spacing:0px;transform:translate(356.15px,289.05px) rotate(0.318deg) translate(-100%,-7.29px);">1, 668, 188</div>
<div class="t " style="font-size:8.7px;letter-spacing:0px;transform:translate(420.09px,289.40px) rotate(0.297deg) translate(-100%,-7.29px);">1, 531, 820</div>
<div class="t " style="font-size:8.7px;letter-spacing:0px;transform:translate(483.80px,289.64px) rotate(0.191deg) translate(-100%,-7.29px);">498, 825</div>
<div class="t " style="font-size:8.7px;letter-spacing:0px;transform:translate(547.28px,289.81px) rotate(0.095deg) translate(-100%,-7.29px);">39, 203</div>
<div class="t " style="font-size:8.7px;letter-spacing:0px;transform:translate(610.98px,289.91px) rotate(0.080deg) translate(-100%,-7.29px);">445, 500</div>
<div class="t " style="font-size:8.7px;letter-spacing:0px;transform:translate(674.96px,289.98px) rotate(0.066deg) translate(-100%,-7.29px);">964, 470</div>
<div class="t " style="font-size:8.7px;letter-spacing:0px;transform:translate(738.96px,290.06px) rotate(0.066deg) translate(-100%,-7.29px);">1, 308, 640</div>
<div class="t " style="font-size:8.7px;letter-spacing:0px;transform:translate(802.96px,290.13px) rotate(0.066deg) translate(-100%,-7.29px);">1, 511, 171</div>
<div class="t " style="font-size:8.7px;letter-spacing:0px;transform:translate(871.82px,290.21px) rotate(0.052deg) translate(-100%,-7.29px);">1, 501, 616</div>
<div class="t " style="font-size:9.5px;letter-spacing:0.9171875000000025px;transform:translate(84.80px,295.29px) rotate(0.830deg) translate(0,-7.96px);">Japan</div>
<div class="t " style="font-size:8.7px;letter-spacing:0px;transform:translate(292.25px,297.31px) rotate(0.382deg) translate(-100%,-7.29px);"><span class="s">6</span>3, 724, 000</div>
<div class="t " style="font-size:8.7px;letter-spacing:0px;transform:translate(356.08px,297.71px) rotate(0.318deg) translate(-100%,-7.29px);"><span class="s">6</span>5, 842, 000</div>
<div class="t " style="font-size:8.7px;letter-spacing:0px;transform:translate(420.05px,298.07px) rotate(0.297deg) translate(-100%,-7.29px);">6, 192, 000</div>
<div class="t " style="font-size:8.7px;letter-spacing:0px;transform:translate(483.79px,298.30px) rotate(0.191deg) translate(-100%,-7.29px);">4, 944, 000</div>
<div class="t " style="font-size:8.7px;letter-spacing:0px;transform:translate(547.29px,298.47px) rotate(0.095deg) translate(-100%,-7.29px);">2, 400, 000</div>
<div class="t " style="font-size:8.7px;letter-spacing:0px;transform:translate(611.00px,298.58px) rotate(0.080deg) translate(-100%,-7.29px);">924, 000</div>
<div class="t " style="font-size:8.7px;letter-spacing:0px;transform:translate(674.98px,298.65px) rotate(0.066deg) translate(-100%,-7.29px);">1, 164, 000</div>
<div class="t " style="font-size:8.7px;letter-spacing:0px;transform:translate(738.98px,298.72px) rotate(0.066deg) translate(-100%,-7.29px);">1, 932, 000</div>
<div class="t " style="font-size:8.7px;letter-spacing:0px;transform:translate(802.98px,298.79px) rotate(0.066deg) translate(-100%,-7.29px);">2, 580, 000</div>
<div class="t " style="font-size:8.7px;letter-spacing:0px;transform:translate(871.83px,298.87px) rotate(0.052deg) translate(-100%,-7.29px);">1, 337, 754</div>
<div class="t " style="font-size:9.5px;letter-spacing:0.5703125000000007px;transform:translate(84.80px,303.95px) rotate(0.830deg) translate(0,-7.96px);">Korea:</div>
<div class="t " style="font-size:9.5px;letter-spacing:0.8589843749999986px;transform:translate(102.20px,312.84px) rotate(0.741deg) translate(0,-7.96px);">North</div>
<div class="t " style="font-size:8.7px;letter-spacing:0px;transform:translate(611.05px,315.90px) rotate(0.080deg) translate(-100%,-7.29px);"><span class="s">2</span>100, 000</div>
<div class="t " style="font-size:8.7px;letter-spacing:0px;transform:translate(675.02px,315.98px) rotate(0.066deg) translate(-100%,-7.29px);"><span class="s">2</span>250, 000</div>
<div class="t " style="font-size:8.7px;letter-spacing:0px;transform:translate(739.02px,316.05px) rotate(0.066deg) translate(-100%,-7.29px);"><span class="s">2</span>300, 000</div>
<div class="t " style="font-size:8.7px;letter-spacing:0px;transform:translate(803.02px,316.12px) rotate(0.066deg) translate(-100%,-7.29px);"><span class="s">2</span>400, 000</div>
<div class="t " style="font-size:8.7px;letter-spacing:0px;transform:translate(871.87px,316.20px) rotate(0.052deg) translate(-100%,-7.29px);"><span class="s">2</span>500, 000</div>
<div class="t " style="font-size:9.5px;letter-spacing:0.6570312500000028px;transform:translate(101.80px,321.50px) rotate(0.741deg) translate(0,-7.96px);">South</div>
<div class="t " style="font-size:8.7px;letter-spacing:0px;transform:translate(611.07px,324.57px) rotate(0.079deg) translate(-100%,-7.29px);">2, 657</div>
<div class="t " style="font-size:8.7px;letter-spacing:0px;transform:translate(675.05px,324.64px) rotate(0.066deg) translate(-100%,-7.29px);">6, 644</div>
<div class="t " style="font-size:8.7px;letter-spacing:0px;transform:translate(739.05px,324.71px) rotate(0.066deg) translate(-100%,-7.29px);">10, 971</div>
<div class="t " style="font-size:8.7px;letter-spacing:0px;transform:translate(803.05px,324.79px) rotate(0.066deg) translate(-100%,-7.29px);">11, 514</div>
<div class="t " style="font-size:8.7px;letter-spacing:0px;transform:translate(871.88px,324.87px) rotate(0.052deg) translate(-100%,-7.29px);"><span class="s">2</span>10, 000</div>
<div class="t " style="font-size:9.5px;letter-spacing:0.115937499999999px;transform:translate(84.10px,329.94px) rotate(0.836deg) translate(0,-7.96px);">Mexico</div>
<div class="t " style="font-size:8.7px;letter-spacing:0px;transform:translate(291.94px,331.96px) rotate(0.382deg) translate(-100%,-7.29px);"><span class="s">2</span>350, 000</div>
<div class="t " style="font-size:8.7px;letter-spacing:0px;transform:translate(355.81px,332.37px) rotate(0.318deg) translate(-100%,-7.29px);"><span class="s">2</span>400, 000</div>
<div class="t " style="font-size:8.7px;letter-spacing:0px;transform:translate(419.86px,332.72px) rotate(0.298deg) translate(-100%,-7.29px);"><span class="s">2</span>500, 000</div>
<div class="t " style="font-size:8.7px;letter-spacing:0px;transform:translate(483.73px,332.96px) rotate(0.191deg) translate(-100%,-7.29px);"><span class="s">2</span>500, 000</div>
<div class="t " style="font-size:8.7px;letter-spacing:0px;transform:translate(547.32px,333.13px) rotate(0.095deg) translate(-100%,-7.29px);"><span class="s">2</span>500, 000</div>
<div class="t " style="font-size:8.7px;letter-spacing:0px;transform:translate(611.09px,333.23px) rotate(0.079deg) translate(-100%,-7.29px);"><span class="s">2</span>500, 000</div>
<div class="t " style="font-size:8.7px;letter-spacing:0px;transform:translate(675.07px,333.30px) rotate(0.066deg) translate(-100%,-7.29px);">530, 400</div>
<div class="t " style="font-size:8.7px;letter-spacing:0px;transform:translate(739.07px,333.38px) rotate(0.066deg) translate(-100%,-7.29px);">408, 000</div>
<div class="t " style="font-size:8.7px;letter-spacing:0px;transform:translate(803.07px,333.45px) rotate(0.066deg) translate(-100%,-7.29px);">374, 827</div>
<div class="t " style="font-size:8.7px;letter-spacing:0px;transform:translate(871.90px,333.53px) rotate(0.052deg) translate(-100%,-7.29px);">391, 955</div>
<div class="t " style="font-size:9.5px;letter-spacing:0.6898437500000014px;transform:translate(84.20px,338.60px) rotate(0.835deg) translate(0,-7.96px);">Netherlands</div>
<div class="t " style="font-size:8.7px;letter-spacing:0px;transform:translate(291.86px,340.62px) rotate(0.382deg) translate(-100%,-7.29px);">3, 158, 065</div>
<div class="t " style="font-size:8.7px;letter-spacing:0px;transform:translate(355.74px,341.03px) rotate(0.318deg) translate(-100%,-7.29px);">2, 048, 819</div>
<div class="t " style="font-size:8.7px;letter-spacing:0px;transform:translate(419.81px,341.39px) rotate(0.298deg) translate(-100%,-7.29px);">2, 163, 444</div>
<div class="t " style="font-size:8.7px;letter-spacing:0px;transform:translate(483.71px,341.62px) rotate(0.191deg) translate(-100%,-7.29px);">1, 575, 371</div>
<div class="t " style="font-size:8.7px;letter-spacing:0px;transform:translate(547.33px,341.79px) rotate(0.095deg) translate(-100%,-7.29px);">855, 542</div>
<div class="t " style="font-size:8.7px;letter-spacing:0px;transform:translate(611.11px,341.90px) rotate(0.079deg) translate(-100%,-7.29px);">1, 307, 768</div>
<div class="t " style="font-size:8.7px;letter-spacing:0px;transform:translate(675.09px,341.97px) rotate(0.066deg) translate(-100%,-7.29px);">1, 774, 023</div>
<div class="t " style="font-size:8.7px;letter-spacing:0px;transform:translate(739.09px,342.04px) rotate(0.066deg) translate(-100%,-7.29px);">2, 239, 500</div>
<div class="t " style="font-size:8.7px;letter-spacing:0px;transform:translate(803.09px,342.12px) rotate(0.066deg) translate(-100%,-7.29px);">2, 474, 400</div>
<div class="t " style="font-size:8.7px;letter-spacing:0px;transform:translate(871.91px,342.19px) rotate(0.052deg) translate(-100%,-7.29px);">2, 803, 900</div>
<div class="t " style="font-size:9.5px;letter-spacing:0.6225260416666677px;transform:translate(84.20px,347.27px) rotate(0.835deg) translate(0,-7.96px);">New Caledonia</div>
<div class="t " style="font-size:8.7px;letter-spacing:0px;transform:translate(291.78px,349.29px) rotate(0.382deg) translate(-100%,-7.29px);">49, 875</div>
<div class="t " style="font-size:8.7px;letter-spacing:0px;transform:translate(355.67px,349.70px) rotate(0.318deg) translate(-100%,-7.29px);">83, 661</div>
<div class="t " style="font-size:8.7px;letter-spacing:0px;transform:translate(419.76px,350.05px) rotate(0.298deg) translate(-100%,-7.29px);"><span class="s">2</span>80, 000</div>
<div class="t " style="font-size:8.7px;letter-spacing:0px;transform:translate(483.70px,350.29px) rotate(0.191deg) translate(-100%,-7.29px);"><span class="s">2</span>80, 000</div>
<div class="t " style="font-size:8.7px;letter-spacing:0px;transform:translate(547.34px,350.45px) rotate(0.095deg) translate(-100%,-7.29px);"><span class="s">2</span>50, 000</div>
<div class="t " style="font-size:8.7px;letter-spacing:0px;transform:translate(611.13px,350.56px) rotate(0.079deg) translate(-100%,-7.29px);"><span class="s">2</span>60, 000</div>
<div class="t " style="font-size:8.7px;letter-spacing:0px;transform:translate(675.11px,350.63px) rotate(0.066deg) translate(-100%,-7.29px);"><span class="s">2</span>70, 000</div>
<div class="t " style="font-size:8.7px;letter-spacing:0px;transform:translate(739.11px,350.71px) rotate(0.066deg) translate(-100%,-7.29px);"><span class="s">2</span>80, 000</div>
<div class="t " style="font-size:8.7px;letter-spacing:0px;transform:translate(803.11px,350.78px) rotate(0.066deg) translate(-100%,-7.29px);"><span class="s">2</span>80, 000</div>
<div class="t " style="font-size:8.7px;letter-spacing:0px;transform:translate(871.93px,350.86px) rotate(0.052deg) translate(-100%,-7.29px);"><span class="s">2</span>80, 000</div>
<div class="t " style="font-size:9.5px;letter-spacing:0.579218749999999px;transform:translate(84.20px,355.93px) rotate(0.835deg) translate(0,-7.96px);">New Zealand</div>
<div class="t " style="font-size:8.7px;letter-spacing:0px;transform:translate(419.71px,358.71px) rotate(0.298deg) translate(-100%,-7.29px);">4, 500</div>
<div class="t " style="font-size:8.7px;letter-spacing:0px;transform:translate(675.14px,359.30px) rotate(0.066deg) translate(-100%,-7.29px);">3, 631</div>
<div class="t " style="font-size:8.7px;letter-spacing:0px;transform:translate(803.14px,359.44px) rotate(0.066deg) translate(-100%,-7.29px);">5, 080</div>
<div class="t " style="font-size:8.7px;letter-spacing:0px;transform:translate(871.95px,359.52px) rotate(0.052deg) translate(-100%,-7.29px);">5, 894</div>
<div class="t " style="font-size:9.5px;letter-spacing:0.799375000000002px;transform:translate(83.80px,364.59px) rotate(0.839deg) translate(0,-7.96px);">Norway</div>
<div class="t " style="font-size:8.7px;letter-spacing:0px;transform:translate(291.63px,366.61px) rotate(0.382deg) translate(-100%,-7.29px);"><span class="s">2</span>100, 000</div>
<div class="t " style="font-size:8.7px;letter-spacing:0px;transform:translate(355.53px,367.02px) rotate(0.318deg) translate(-100%,-7.29px);">101, 226</div>
<div class="t " style="font-size:8.7px;letter-spacing:0px;transform:translate(419.66px,367.38px) rotate(0.299deg) translate(-100%,-7.29px);">110, 406</div>
<div class="t " style="font-size:8.7px;letter-spacing:0px;transform:translate(483.67px,367.61px) rotate(0.191deg) translate(-100%,-7.29px);">78, 558</div>
<div class="t " style="font-size:9.5px;letter-spacing:1.0619791666666696px;transform:translate(83.80px,373.25px) rotate(0.839deg) translate(0,-7.96px);">Peru</div>
<div class="t " style="font-size:8.7px;letter-spacing:0px;transform:translate(675.18px,376.62px) rotate(0.066deg) translate(-100%,-7.29px);">1, 641</div>
<div class="t " style="font-size:8.7px;letter-spacing:0px;transform:translate(739.18px,376.70px) rotate(0.066deg) translate(-100%,-7.29px);">1, 763</div>
<div class="t " style="font-size:9.5px;letter-spacing:0.7421875000000014px;transform:translate(83.80px,381.92px) rotate(0.839deg) translate(0,-7.96px);">Poland</div>
<div class="t " style="font-size:8.7px;letter-spacing:0px;transform:translate(291.47px,383.94px) rotate(0.382deg) translate(-100%,-7.29px);">2, 290, 925</div>
<div class="t " style="font-size:8.7px;letter-spacing:0px;transform:translate(355.39px,384.35px) rotate(0.318deg) translate(-100%,-7.29px);">3, 170, 076</div>
<div class="t " style="font-size:8.7px;letter-spacing:0px;transform:translate(419.57px,384.71px) rotate(0.299deg) translate(-100%,-7.29px);">3, 250, 344</div>
<div class="t " style="font-size:8.7px;letter-spacing:0px;transform:translate(483.64px,384.94px) rotate(0.191deg) translate(-100%,-7.29px);">4, 544, 211</div>
<div class="t " style="font-size:8.7px;letter-spacing:0px;transform:translate(547.38px,385.11px) rotate(0.095deg) translate(-100%,-7.29px);">1, 743, 239</div>
<div class="t " style="font-size:8.7px;letter-spacing:0px;transform:translate(611.22px,385.22px) rotate(0.079deg) translate(-100%,-7.29px);">3, 068, 019</div>
<div class="t " style="font-size:8.7px;letter-spacing:0px;transform:translate(675.21px,385.29px) rotate(0.066deg) translate(-100%,-7.29px);">3, 762, 787</div>
<div class="t " style="font-size:8.7px;letter-spacing:0px;transform:translate(739.21px,385.36px) rotate(0.066deg) translate(-100%,-7.29px);">5, 091, 000</div>
<div class="t " style="font-size:8.7px;letter-spacing:0px;transform:translate(803.21px,385.44px) rotate(0.066deg) translate(-100%,-7.29px);">5, 751, 000</div>
<div class="t " style="font-size:8.7px;letter-spacing:0px;transform:translate(871.99px,385.51px) rotate(0.052deg) translate(-100%,-7.29px);">5, 924, 000</div>
<div class="t " style="font-size:9.5px;letter-spacing:0.9502604166666669px;transform:translate(83.80px,390.58px) rotate(0.839deg) translate(0,-7.96px);">Rumania</div>
<div class="t " style="font-size:8.7px;letter-spacing:0px;transform:translate(291.40px,392.60px) rotate(0.382deg) translate(-100%,-7.29px);">86, 030</div>
<div class="t " style="font-size:8.7px;letter-spacing:0px;transform:translate(355.32px,393.01px) rotate(0.318deg) translate(-100%,-7.29px);">86, 115</div>
<div class="t " style="font-size:8.7px;letter-spacing:0px;transform:translate(419.52px,393.37px) rotate(0.299deg) translate(-100%,-7.29px);">84, 212</div>
<div class="t " style="font-size:8.7px;letter-spacing:0px;transform:translate(483.63px,393.61px) rotate(0.191deg) translate(-100%,-7.29px);">49, 000</div>
<div class="t " style="font-size:8.7px;letter-spacing:0px;transform:translate(547.39px,393.77px) rotate(0.095deg) translate(-100%,-7.29px);">37, 000</div>
<div class="t " style="font-size:8.7px;letter-spacing:0px;transform:translate(611.24px,393.88px) rotate(0.079deg) translate(-100%,-7.29px);">48, 000</div>
<div class="t " style="font-size:8.7px;letter-spacing:0px;transform:translate(675.23px,393.95px) rotate(0.066deg) translate(-100%,-7.29px);">73, 000</div>
<div class="t " style="font-size:8.7px;letter-spacing:0px;transform:translate(739.23px,394.03px) rotate(0.066deg) translate(-100%,-7.29px);"><span class="s">2</span>80, 000</div>
<div class="t " style="font-size:8.7px;letter-spacing:0px;transform:translate(803.23px,394.10px) rotate(0.066deg) translate(-100%,-7.29px);"><span class="s">2</span>100, 000</div>
<div class="t " style="font-size:8.7px;letter-spacing:0px;transform:translate(872.01px,394.18px) rotate(0.052deg) translate(-100%,-7.29px);"><span class="s">2</span>120, 000</div>
<div class="t " style="font-size:9.5px;letter-spacing:0.6666015625000012px;transform:translate(83.30px,399.24px) rotate(0.843deg) translate(0,-7.96px);">Southern Rhodesia</div>
<div class="t " style="font-size:8.7px;letter-spacing:0px;transform:translate(291.32px,401.27px) rotate(0.382deg) translate(-100%,-7.29px);">47, 986</div>
<div class="t " style="font-size:8.7px;letter-spacing:0px;transform:translate(355.25px,401.68px) rotate(0.318deg) translate(-100%,-7.29px);">71, 402</div>
<div class="t " style="font-size:8.7px;letter-spacing:0px;transform:translate(419.47px,402.03px) rotate(0.299deg) translate(-100%,-7.29px);">78, 566</div>
<div class="t " style="font-size:8.7px;letter-spacing:0px;transform:translate(483.61px,402.27px) rotate(0.191deg) translate(-100%,-7.29px);">79, 857</div>
<div class="t " style="font-size:8.7px;letter-spacing:0px;transform:translate(547.40px,402.44px) rotate(0.095deg) translate(-100%,-7.29px);">85, 103</div>
<div class="t " style="font-size:8.7px;letter-spacing:0px;transform:translate(611.26px,402.54px) rotate(0.079deg) translate(-100%,-7.29px);">85, 820</div>
<div class="t " style="font-size:8.7px;letter-spacing:0px;transform:translate(675.25px,402.62px) rotate(0.066deg) translate(-100%,-7.29px);">63, 689</div>
<div class="t " style="font-size:8.7px;letter-spacing:0px;transform:translate(739.25px,402.69px) rotate(0.066deg) translate(-100%,-7.29px);">79, 362</div>
<div class="t " style="font-size:8.7px;letter-spacing:0px;transform:translate(803.25px,402.76px) rotate(0.066deg) translate(-100%,-7.29px);">81, 251</div>
<div class="t " style="font-size:8.7px;letter-spacing:0px;transform:translate(872.03px,402.84px) rotate(0.052deg) translate(-100%,-7.29px);"><span class="s">2</span>80, 000</div>
<div class="t " style="font-size:9.5px;letter-spacing:0.5652343750000011px;transform:translate(83.00px,407.90px) rotate(0.846deg) translate(0,-7.96px);">Spain</div>
<div class="t " style="font-size:8.7px;letter-spacing:0px;transform:translate(291.24px,409.93px) rotate(0.382deg) translate(-100%,-7.29px);">571, 469</div>
<div class="t " style="font-size:8.7px;letter-spacing:0px;transform:translate(355.18px,410.34px) rotate(0.318deg) translate(-100%,-7.29px);">814, 355</div>
<div class="t " style="font-size:8.7px;letter-spacing:0px;transform:translate(419.43px,410.70px) rotate(0.300deg) translate(-100%,-7.29px);">801, 122</div>
<div class="t " style="font-size:8.7px;letter-spacing:0px;transform:translate(483.60px,410.93px) rotate(0.191deg) translate(-100%,-7.29px);">862, 574</div>
<div class="t " style="font-size:8.7px;letter-spacing:0px;transform:translate(547.41px,411.10px) rotate(0.095deg) translate(-100%,-7.29px);">770, 714</div>
<div class="t " style="font-size:8.7px;letter-spacing:0px;transform:translate(611.28px,411.21px) rotate(0.079deg) translate(-100%,-7.29px);">783, 014</div>
<div class="t " style="font-size:8.7px;letter-spacing:0px;transform:translate(675.27px,411.28px) rotate(0.066deg) translate(-100%,-7.29px);">815, 644</div>
<div class="t " style="font-size:8.7px;letter-spacing:0px;transform:translate(739.27px,411.35px) rotate(0.066deg) translate(-100%,-7.29px);">848, 375</div>
<div class="t " style="font-size:8.7px;letter-spacing:0px;transform:translate(803.27px,411.43px) rotate(0.066deg) translate(-100%,-7.29px);">967, 497</div>
<div class="t " style="font-size:8.7px;letter-spacing:0px;transform:translate(872.04px,411.51px) rotate(0.052deg) translate(-100%,-7.29px);">946, 100</div>
<div class="t " style="font-size:9.5px;letter-spacing:0.5043750000000017px;transform:translate(83.00px,416.56px) rotate(0.846deg) translate(0,-7.96px);">Sweden</div>
<div class="t " style="font-size:8.7px;letter-spacing:0px;transform:translate(291.16px,418.59px) rotate(0.382deg) translate(-100%,-7.29px);">112, 107</div>
<div class="t " style="font-size:8.7px;letter-spacing:0px;transform:translate(355.11px,419.00px) rotate(0.318deg) translate(-100%,-7.29px);"><span class="s">2</span>100, 000</div>
<div class="t " style="font-size:8.7px;letter-spacing:0px;transform:translate(419.38px,419.36px) rotate(0.300deg) translate(-100%,-7.29px);">81, 617</div>
<div class="t " style="font-size:8.7px;letter-spacing:0px;transform:translate(483.58px,419.60px) rotate(0.191deg) translate(-100%,-7.29px);">32, 175</div>
<div class="t " style="font-size:8.7px;letter-spacing:0px;transform:translate(611.31px,419.87px) rotate(0.079deg) translate(-100%,-7.29px);">14, 592</div>
<div class="t " style="font-size:8.7px;letter-spacing:0px;transform:translate(675.30px,419.94px) rotate(0.066deg) translate(-100%,-7.29px);"><span class="s">2</span>60, 000</div>
<div class="t " style="font-size:8.7px;letter-spacing:0px;transform:translate(739.30px,420.02px) rotate(0.066deg) translate(-100%,-7.29px);">73, 800</div>
<div class="t " style="font-size:8.7px;letter-spacing:0px;transform:translate(803.30px,420.09px) rotate(0.066deg) translate(-100%,-7.29px);">82, 600</div>
<div class="t " style="font-size:8.7px;letter-spacing:0px;transform:translate(872.06px,420.17px) rotate(0.052deg) translate(-100%,-7.29px);">72, 000</div>
<div class="t " style="font-size:9.5px;letter-spacing:0.728229166666667px;transform:translate(83.00px,425.23px) rotate(0.846deg) translate(0,-7.96px);">Taiwan (Formosa)</div>
<div class="t " style="font-size:8.7px;letter-spacing:0px;transform:translate(291.09px,427.26px) rotate(0.382deg) translate(-100%,-7.29px);"><span class="s">2</span>50, 000</div>
<div class="t " style="font-size:8.7px;letter-spacing:0px;transform:translate(355.05px,427.67px) rotate(0.318deg) translate(-100%,-7.29px);"><span class="s">2</span>50, 000</div>
<div class="t " style="font-size:8.7px;letter-spacing:0px;transform:translate(419.33px,428.02px) rotate(0.300deg) translate(-100%,-7.29px);"><span class="s">2</span>50, 000</div>
<div class="t " style="font-size:8.7px;letter-spacing:0px;transform:translate(483.57px,428.26px) rotate(0.191deg) translate(-100%,-7.29px);"><span class="s">2</span>50, 000</div>
<div class="t " style="font-size:8.7px;letter-spacing:0px;transform:translate(547.43px,428.43px) rotate(0.095deg) translate(-100%,-7.29px);">45, 190</div>
<div class="t " style="font-size:8.7px;letter-spacing:0px;transform:translate(611.33px,428.54px) rotate(0.079deg) translate(-100%,-7.29px);">19, 308</div>
<div class="t " style="font-size:8.7px;letter-spacing:0px;transform:translate(675.32px,428.61px) rotate(0.066deg) translate(-100%,-7.29px);">27, 898</div>
<div class="t " style="font-size:8.7px;letter-spacing:0px;transform:translate(739.32px,428.68px) rotate(0.066deg) translate(-100%,-7.29px);">31, 841</div>
<div class="t " style="font-size:8.7px;letter-spacing:0px;transform:translate(803.32px,428.76px) rotate(0.066deg) translate(-100%,-7.29px);">35, 971</div>
<div class="t " style="font-size:8.7px;letter-spacing:0px;transform:translate(872.07px,428.83px) rotate(0.052deg) translate(-100%,-7.29px);"><span class="s">2</span>50, 000</div>
<div class="t " style="font-size:9.5px;letter-spacing:1.0000000000000013px;transform:translate(83.00px,433.89px) rotate(0.846deg) translate(0,-7.96px);">Turkey</div>
<div class="t " style="font-size:8.7px;letter-spacing:0px;transform:translate(291.01px,435.92px) rotate(0.382deg) translate(-100%,-7.29px);">85, 348</div>
<div class="t " style="font-size:8.7px;letter-spacing:0px;transform:translate(354.98px,436.33px) rotate(0.318deg) translate(-100%,-7.29px);">178, 114</div>
<div class="t " style="font-size:8.7px;letter-spacing:0px;transform:translate(419.28px,436.69px) rotate(0.300deg) translate(-100%,-7.29px);">182, 974</div>
<div class="t " style="font-size:8.7px;letter-spacing:0px;transform:translate(483.55px,436.93px) rotate(0.191deg) translate(-100%,-7.29px);">208, 623</div>
<div class="t " style="font-size:8.7px;letter-spacing:0px;transform:translate(547.44px,437.09px) rotate(0.095deg) translate(-100%,-7.29px);">227, 290</div>
<div class="t " style="font-size:8.7px;letter-spacing:0px;transform:translate(611.35px,437.20px) rotate(0.079deg) translate(-100%,-7.29px);">262, 153</div>
<div class="t " style="font-size:8.7px;letter-spacing:0px;transform:translate(675.34px,437.27px) rotate(0.066deg) translate(-100%,-7.29px);">265, 437</div>
<div class="t " style="font-size:8.7px;letter-spacing:0px;transform:translate(739.34px,437.35px) rotate(0.066deg) translate(-100%,-7.29px);">270, 483</div>
<div class="t " style="font-size:8.7px;letter-spacing:0px;transform:translate(803.34px,437.42px) rotate(0.066deg) translate(-100%,-7.29px);">293, 312</div>
<div class="t " style="font-size:8.7px;letter-spacing:0px;transform:translate(872.09px,437.50px) rotate(0.052deg) translate(-100%,-7.29px);">308, 000</div>
<div class="t " style="font-size:9.5px;letter-spacing:0.49000000000000055px;transform:translate(83.00px,442.55px) rotate(0.846deg) translate(0,-7.96px);">Union of South Africa</div>
<div class="t " style="font-size:8.7px;letter-spacing:0px;transform:translate(290.93px,444.58px) rotate(0.382deg) translate(-100%,-7.29px);">163, 315</div>
<div class="t " style="font-size:8.7px;letter-spacing:0px;transform:translate(354.91px,444.99px) rotate(0.319deg) translate(-100%,-7.29px);">232, 498</div>
<div class="t " style="font-size:8.7px;letter-spacing:0px;transform:translate(419.23px,445.35px) rotate(0.300deg) translate(-100%,-7.29px);">240, 724</div>
<div class="t " style="font-size:8.7px;letter-spacing:0px;transform:translate(483.54px,445.59px) rotate(0.191deg) translate(-100%,-7.29px);">176, 524</div>
<div class="t " style="font-size:8.7px;letter-spacing:0px;transform:translate(547.45px,445.76px) rotate(0.095deg) translate(-100%,-7.29px);">208, 147</div>
<div class="t " style="font-size:8.7px;letter-spacing:0px;transform:translate(611.37px,445.86px) rotate(0.079deg) translate(-100%,-7.29px);">225, 879</div>
<div class="t " style="font-size:8.7px;letter-spacing:0px;transform:translate(675.37px,445.94px) rotate(0.066deg) translate(-100%,-7.29px);">238, 398</div>
<div class="t " style="font-size:8.7px;letter-spacing:0px;transform:translate(739.37px,446.01px) rotate(0.066deg) translate(-100%,-7.29px);">363, 512</div>
<div class="t " style="font-size:8.7px;letter-spacing:0px;transform:translate(803.37px,446.08px) rotate(0.066deg) translate(-100%,-7.29px);"><span class="s">2</span>360, 000</div>
<div class="t " style="font-size:8.7px;letter-spacing:0px;transform:translate(872.11px,446.16px) rotate(0.052deg) translate(-100%,-7.29px);"><span class="s">2</span>400, 000</div>
<div class="t " style="font-size:9.5px;letter-spacing:0.3740327380952386px;transform:translate(83.00px,451.22px) rotate(0.846deg) translate(0,-7.96px);">U. S. S. R. (estimate)</div>
<div class="t " style="font-size:8.7px;letter-spacing:0px;transform:translate(290.85px,453.25px) rotate(0.382deg) translate(-100%,-7.29px);">20, 700, 000</div>
<div class="t " style="font-size:8.7px;letter-spacing:0px;transform:translate(354.84px,453.66px) rotate(0.319deg) translate(-100%,-7.29px);">7, 285, 000</div>
<div class="t " style="font-size:8.7px;letter-spacing:0px;transform:translate(419.19px,454.02px) rotate(0.301deg) translate(-100%,-7.29px);">8, 301, 000</div>
<div class="t " style="font-size:8.7px;letter-spacing:0px;transform:translate(483.52px,454.25px) rotate(0.191deg) translate(-100%,-7.29px);">11, 000, 000</div>
<div class="t " style="font-size:8.7px;letter-spacing:0px;transform:translate(547.45px,454.42px) rotate(0.095deg) translate(-100%,-7.29px);">13, 000, 000</div>
<div class="t " style="font-size:8.7px;letter-spacing:0px;transform:translate(611.39px,454.53px) rotate(0.079deg) translate(-100%,-7.29px);">14, 500, 000</div>
<div class="t " style="font-size:8.7px;letter-spacing:0px;transform:translate(675.39px,454.60px) rotate(0.066deg) translate(-100%,-7.29px);">17, 000, 000</div>
<div class="t " style="font-size:8.7px;letter-spacing:0px;transform:translate(739.39px,454.67px) rotate(0.066deg) translate(-100%,-7.29px);">20, 000, 000</div>
<div class="t " style="font-size:8.7px;letter-spacing:0px;transform:translate(803.39px,454.75px) rotate(0.066deg) translate(-100%,-7.29px);">24, 000, 000</div>
<div class="t " style="font-size:8.7px;letter-spacing:0px;transform:translate(872.12px,454.83px) rotate(0.052deg) translate(-100%,-7.29px);">27, 000, 000</div>
<div class="t " style="font-size:9.5px;letter-spacing:0.7368990384615389px;transform:translate(83.00px,459.88px) rotate(0.846deg) translate(0,-7.96px);">United Kingdom<span class="s" style="margin:0 0 0 1.6px">7</span></div>
<div class="t " style="font-size:8.7px;letter-spacing:0px;transform:translate(290.77px,461.91px) rotate(0.382deg) translate(-100%,-7.29px);">13, 031, 396</div>
<div class="t " style="font-size:8.7px;letter-spacing:0px;transform:translate(354.77px,462.32px) rotate(0.319deg) translate(-100%,-7.29px);">15, 138, 701</div>
<div class="t " style="font-size:8.7px;letter-spacing:0px;transform:translate(419.14px,462.68px) rotate(0.301deg) translate(-100%,-7.29px);">14, 684, 421</div>
<div class="t " style="font-size:8.7px;letter-spacing:0px;transform:translate(483.51px,462.92px) rotate(0.191deg) translate(-100%,-7.29px);">14, 307, 360</div>
<div class="t " style="font-size:8.7px;letter-spacing:0px;transform:translate(547.46px,463.09px) rotate(0.095deg) translate(-100%,-7.29px);">14, 210, 198</div>
<div class="t " style="font-size:8.7px;letter-spacing:0px;transform:translate(611.42px,463.19px) rotate(0.079deg) translate(-100%,-7.29px);">14, 137, 567</div>
<div class="t " style="font-size:8.7px;letter-spacing:0px;transform:translate(675.41px,463.26px) rotate(0.066deg) translate(-100%,-7.29px);">14, 036, 677</div>
<div class="t " style="font-size:8.7px;letter-spacing:0px;transform:translate(739.41px,463.34px) rotate(0.066deg) translate(-100%,-7.29px);">15, 670, 336</div>
<div class="t " style="font-size:8.7px;letter-spacing:0px;transform:translate(803.41px,463.41px) rotate(0.066deg) translate(-100%,-7.29px);">15, 739, 630</div>
<div class="t " style="font-size:8.7px;letter-spacing:0px;transform:translate(872.14px,463.49px) rotate(0.052deg) translate(-100%,-7.29px);">15, 640, 000</div>
<div class="t " style="font-size:9.5px;letter-spacing:0.6813802083333341px;transform:translate(83.00px,468.55px) rotate(0.846deg) translate(0,-7.96px);">United States</div>
<div class="t " style="font-size:8.7px;letter-spacing:0px;transform:translate(290.70px,470.58px) rotate(0.382deg) translate(-100%,-7.29px);">29, 479, 553</div>
<div class="t " style="font-size:8.7px;letter-spacing:0px;transform:translate(354.70px,470.99px) rotate(0.319deg) translate(-100%,-7.29px);">64, 018, 735</div>
<div class="t " style="font-size:8.7px;letter-spacing:0px;transform:translate(419.09px,471.34px) rotate(0.301deg) translate(-100%,-7.29px);">65, 023, 091</div>
<div class="t " style="font-size:8.7px;letter-spacing:0px;transform:translate(483.50px,471.58px) rotate(0.191deg) translate(-100%,-7.29px);">67, 165, 627</div>
<div class="t " style="font-size:8.7px;letter-spacing:0px;transform:translate(547.47px,471.75px) rotate(0.095deg) translate(-100%,-7.29px);">61, 060, 636</div>
<div class="t " style="font-size:8.7px;letter-spacing:0px;transform:translate(611.44px,471.86px) rotate(0.079deg) translate(-100%,-7.29px);">53, 068, 078</div>
<div class="t " style="font-size:8.7px;letter-spacing:0px;transform:translate(675.43px,471.93px) rotate(0.066deg) translate(-100%,-7.29px);">66, 628, 606</div>
<div class="t " style="font-size:8.7px;letter-spacing:0px;transform:translate(739.43px,472.00px) rotate(0.066deg) translate(-100%,-7.29px);">67, 913, 244</div>
<div class="t " style="font-size:8.7px;letter-spacing:0px;transform:translate(803.43px,472.08px) rotate(0.066deg) translate(-100%,-7.29px);">57, 730, 603</div>
<div class="t " style="font-size:8.7px;letter-spacing:0px;transform:translate(872.15px,472.15px) rotate(0.052deg) translate(-100%,-7.29px);">65, 968, 350</div>
<div class="t " style="font-size:8.7px;letter-spacing:0px;transform:translate(292.60px,258.32px) rotate(0.382deg) translate(-100%,-7.29px);">40, 404, 082</div>
<div class="t " style="font-size:8.7px;letter-spacing:0px;transform:translate(356.39px,258.73px) rotate(0.318deg) translate(-100%,-7.29px);"><span class="s">5</span>47, 996, 026</div>
<div class="t " style="font-size:8.7px;letter-spacing:0px;transform:translate(420.26px,259.08px) rotate(0.296deg) translate(-100%,-7.29px);"><span class="s">5</span>47, 804, 000</div>
<div class="t " style="font-size:8.7px;letter-spacing:0px;transform:translate(483.85px,259.32px) rotate(0.191deg) translate(-100%,-7.29px);"><span class="s">5</span>41, 596, 000</div>
<div class="t " style="font-size:8.7px;letter-spacing:0px;transform:translate(610.90px,259.59px) rotate(0.080deg) translate(-100%,-7.29px);">10, 404, 000</div>
<div class="t " style="font-size:8.7px;letter-spacing:0px;transform:translate(674.88px,259.66px) rotate(0.066deg) translate(-100%,-7.29px);">16, 154, 000</div>
<div class="t " style="font-size:8.7px;letter-spacing:0px;transform:translate(292.05px,318.96px) rotate(0.382deg) translate(-100%,-7.29px);">377, 937</div>
<div class="t " style="font-size:8.7px;letter-spacing:0px;transform:translate(355.91px,319.37px) rotate(0.318deg) translate(-100%,-7.29px);">582, 918</div>
<div class="t " style="font-size:8.7px;letter-spacing:0px;transform:translate(419.93px,319.73px) rotate(0.297deg) translate(-100%,-7.29px);">851, 307</div>
<div class="t " style="font-size:8.7px;letter-spacing:0px;transform:translate(483.75px,319.96px) rotate(0.191deg) translate(-100%,-7.29px);">733, 216</div>
<div class="t " style="font-size:8.7px;letter-spacing:0px;transform:translate(547.31px,320.13px) rotate(0.095deg) translate(-100%,-7.29px);">69, 106</div>
<div class="t " style="font-size:9.5px;letter-spacing:0.5971875000000011px;transform:translate(108.30px,486.57px) rotate(0.741deg) translate(0,-7.96px);">Total (estimate)</div>
<div class="t " style="font-size:8.7px;letter-spacing:0px;transform:translate(290.54px,488.27px) rotate(0.382deg) translate(-100%,-7.29px);">139, 555, 000</div>
<div class="t " style="font-size:8.7px;letter-spacing:0px;transform:translate(354.56px,488.68px) rotate(0.319deg) translate(-100%,-7.29px);">172, 736, 000</div>
<div class="t " style="font-size:8.7px;letter-spacing:0px;transform:translate(418.99px,489.04px) rotate(0.301deg) translate(-100%,-7.29px);">175, 260, 000</div>
<div class="t " style="font-size:8.7px;letter-spacing:0px;transform:translate(483.47px,489.28px) rotate(0.191deg) translate(-100%,-7.29px);">167, 462, 000</div>
<div class="t " style="font-size:8.7px;letter-spacing:0px;transform:translate(547.49px,489.45px) rotate(0.095deg) translate(-100%,-7.29px);">112, 949, 000</div>
<div class="t " style="font-size:8.7px;letter-spacing:0px;transform:translate(611.48px,489.55px) rotate(0.079deg) translate(-100%,-7.29px);">116, 325, 000</div>
<div class="t " style="font-size:8.7px;letter-spacing:0px;transform:translate(675.48px,489.62px) rotate(0.066deg) translate(-100%,-7.29px);">144, 972, 000</div>
<div class="t " style="font-size:8.7px;letter-spacing:0px;transform:translate(739.48px,489.70px) rotate(0.066deg) translate(-100%,-7.29px);">161, 174, 000</div>
<div class="t " style="font-size:8.7px;letter-spacing:0px;transform:translate(803.48px,489.77px) rotate(0.066deg) translate(-100%,-7.29px);">164, 292, 000</div>
<div class="t " style="font-size:8.7px;letter-spacing:0px;transform:translate(872.19px,489.85px) rotate(0.051deg) translate(-100%,-7.29px);">177, 627, 000</div>
<div class="t ttl" style="font-size:11.4px;letter-spacing:0.12413281249999386px;transform:translate(230.70px,86.10px) rotate(0.170deg) translate(0,-9.55px);font-weight:bold;">TABLE</div>
<div class="t ttl" style="font-size:11.4px;letter-spacing:0.5764648437500037px;transform:translate(274.10px,86.22px) rotate(0.170deg) translate(0,-9.55px);font-weight:bold;">48.—World</div>
<div class="t ttl" style="font-size:11.4px;letter-spacing:0.5738645833333299px;transform:translate(341.30px,86.42px) rotate(0.170deg) translate(0,-9.55px);font-weight:bold;">production</div>
<div class="t ttl" style="font-size:11.4px;letter-spacing:1.304156249999977px;transform:translate(405.70px,86.60px) rotate(0.170deg) translate(0,-9.55px);font-weight:bold;">of</div>
<div class="t ttl" style="font-size:11.4px;letter-spacing:0.34648958333333724px;transform:translate(422.70px,86.65px) rotate(0.170deg) translate(0,-9.55px);font-weight:bold;">coke</div>
<div class="t ttl" style="font-size:11.4px;letter-spacing:-0.1394687500000007px;transform:translate(451.80px,86.74px) rotate(0.170deg) translate(0,-9.55px);font-weight:bold;">by</div>
<div class="t ttl" style="font-size:11.4px;letter-spacing:0.498829861111108px;transform:translate(470.70px,86.79px) rotate(0.170deg) translate(0,-9.55px);font-weight:bold;">countries,</div>
<div class="t ttl" style="font-size:11.4px;letter-spacing:0.833333333333325px;transform:translate(530.20px,86.96px) rotate(0.170deg) translate(0,-9.55px);font-weight:bold;">1938</div>
<div class="t ttl" style="font-size:11.4px;letter-spacing:0.4105312499999769px;transform:translate(560.90px,87.05px) rotate(0.170deg) translate(0,-9.55px);font-weight:bold;">and</div>
<div class="t ttl" style="font-size:11.4px;letter-spacing:0.9071428571428635px;transform:translate(586.20px,87.12px) rotate(0.170deg) translate(0,-9.55px);font-weight:bold;">1942–50,</div>
<div class="t ttl" style="font-size:11.4px;letter-spacing:1.5934687500000457px;transform:translate(639.70px,87.28px) rotate(0.170deg) translate(0,-9.55px);font-weight:bold;">in</div>
<div class="t ttl" style="font-size:11.4px;letter-spacing:0.751931249999999px;transform:translate(655.30px,87.32px) rotate(0.170deg) translate(0,-9.55px);font-weight:bold;">metric</div>
<div class="t ttl" style="font-size:11.4px;letter-spacing:0.5425312499999985px;transform:translate(695.80px,87.44px) rotate(0.170deg) translate(0,-9.55px);font-weight:bold;">tons</div>
<div class="t " style="font-size:6.5px;letter-spacing:0px;transform:translate(722.20px,84.20px) rotate(0.170deg) translate(0,-5.44px);font-weight:bold;">1</div>
<div class="t sub" style="font-size:9.5px;letter-spacing:0.63px;transform:translate(413.40px,105.10px) rotate(0.100deg) translate(0,-7.96px);">[Compiled by Pauline Roberts]</div>
<div class="t " style="font-size:5.5px;letter-spacing:0px;transform:translate(90.30px,509.10px) rotate(0.782deg) translate(0,-4.61px);">1</div>
<div class="t " style="font-size:9.5px;letter-spacing:0.3px;transform:translate(95.80px,511.90px) rotate(0.741deg) translate(0,-7.96px);">Excludes gas-house coke.</div>
<div class="t " style="font-size:5.5px;letter-spacing:0px;transform:translate(90.10px,517.90px) rotate(0.784deg) translate(0,-4.61px);">2</div>
<div class="t " style="font-size:9.5px;letter-spacing:0.71px;transform:translate(95.70px,520.70px) rotate(0.741deg) translate(0,-7.96px);">Estimate.</div>
<div class="t " style="font-size:5.5px;letter-spacing:0px;transform:translate(89.80px,526.60px) rotate(0.787deg) translate(0,-4.61px);">3</div>
<div class="t " style="font-size:9.5px;letter-spacing:0.5px;transform:translate(95.60px,529.40px) rotate(0.741deg) translate(0,-7.96px);">Exports.</div>
<div class="t " style="font-size:5.5px;letter-spacing:0px;transform:translate(89.40px,535.30px) rotate(0.530deg) translate(0,-4.61px);">4</div>
<div class="t " style="font-size:9.5px;letter-spacing:0.61px;transform:translate(95.30px,538.10px) rotate(0.530deg) translate(0,-7.96px);">Areas designated as Free China during the period of Japanese occupation.</div>
<div class="t " style="font-size:5.5px;letter-spacing:0px;transform:translate(88.90px,544.10px) rotate(0.795deg) translate(0,-4.61px);">5</div>
<div class="t " style="font-size:9.5px;letter-spacing:0.576px;transform:translate(94.90px,546.90px) rotate(0.742deg) translate(0,-7.96px);">Includes Silesian production.</div>
<div class="t " style="font-size:5.5px;letter-spacing:0px;transform:translate(494.00px,512.80px) rotate(0.030deg) translate(0,-4.61px);">6</div>
<div class="t " style="font-size:9.5px;letter-spacing:0.523px;transform:translate(500.30px,515.60px) rotate(0.030deg) translate(0,-7.96px);">Preliminary data for fiscal year ended Mar. 31 of year following that stated.</div>
<div class="t " style="font-size:5.5px;letter-spacing:0px;transform:translate(494.40px,521.60px) rotate(0.030deg) translate(0,-4.61px);">7</div>
<div class="t " style="font-size:9.5px;letter-spacing:0.5px;transform:translate(500.30px,524.40px) rotate(0.030deg) translate(0,-7.96px);">In Great Britain production of gas-house coke is especially important: 10,770,130 tons</div>
<div class="t " style="font-size:9.5px;letter-spacing:0.468px;transform:translate(485.10px,533.20px) rotate(0.030deg) translate(0,-7.96px);">in 1938, averaged 11,000,000 tons per year 1941–45, increased 15 percent in 1946–47, and</div>
<div class="t " style="font-size:9.5px;letter-spacing:0.24px;transform:translate(485.10px,542.00px) rotate(0.030deg) translate(0,-7.96px);">25–30 percent in 1948–49.  Data for 1950 incomplete.</div>
<div class="t" style="font-size:19.4px;letter-spacing:0px;transform:translate(890.00px,85.80px) rotate(90deg) translate(0,-16.25px) scaleX(0.9);">450</div>
<div class="t" style="font-size:12.8px;letter-spacing:0.2px;transform:translate(891.70px,223.40px) rotate(90deg) translate(0,-10.72px) scaleX(1.0);">MINERALS</div>
<div class="t" style="font-size:12.8px;letter-spacing:0px;transform:translate(892.20px,298.90px) rotate(90deg) translate(0,-10.72px) scaleX(0.945);">YEARBOOK,</div>
<div class="t" style="font-size:12.8px;letter-spacing:1.5px;transform:translate(892.60px,378.60px) rotate(90deg) translate(0,-10.72px) scaleX(1.0);">1950</div>
</body></html>
